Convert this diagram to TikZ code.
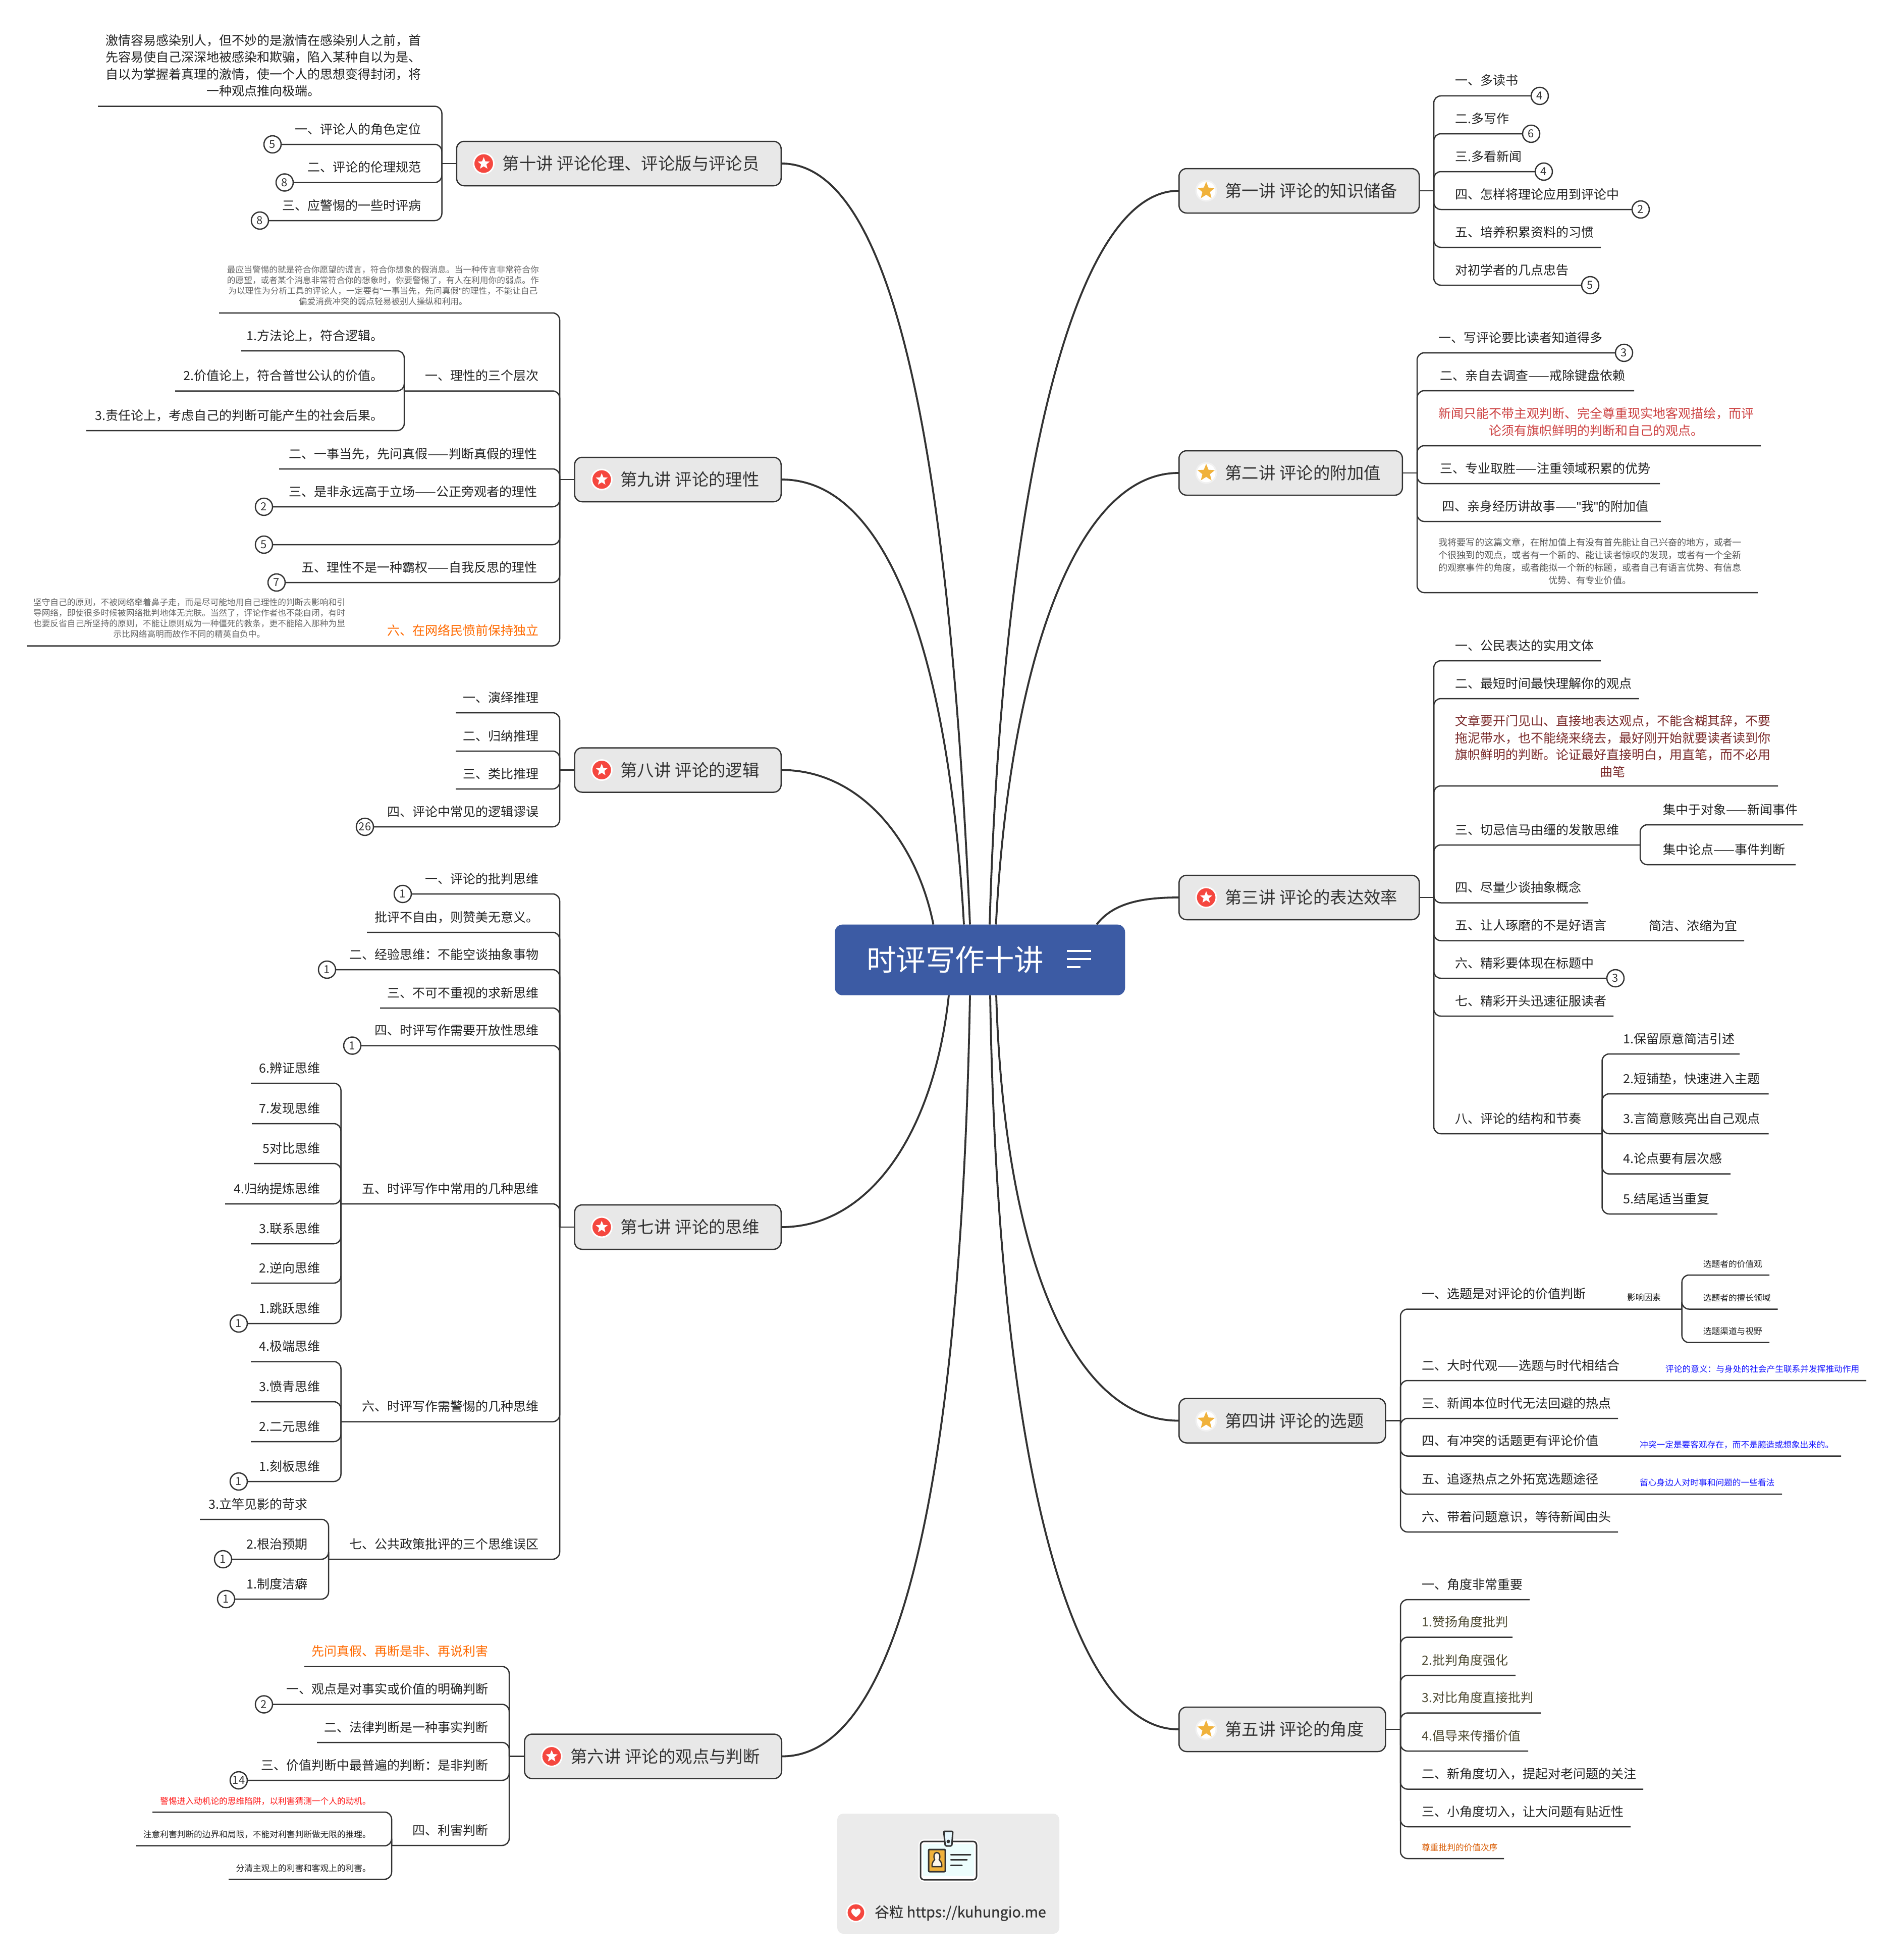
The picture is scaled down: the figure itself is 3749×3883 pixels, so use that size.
\documentclass[tikz,border=0pt]{standalone}
\usepackage{xcolor}
\usepackage{fontspec}
\setmainfont{Noto Sans CJK SC}
\newfontfamily\quotefont{Liberation Sans}
\newfontfamily\footerfont[FakeBold=0.5]{Noto Sans CJK SC}
\usepackage{tikz}
\usetikzlibrary{calc}
\usetikzlibrary{shapes.geometric}
\definecolor{inkDark}{HTML}{333333}
\definecolor{leafInk}{HTML}{222222}
\definecolor{topicFill}{HTML}{E8E8E8}
\definecolor{rootBlue}{HTML}{3C5BA4}
\definecolor{cardFill}{HTML}{EBEBEB}
\definecolor{noteGray}{HTML}{666666}
\definecolor{warnOrange}{HTML}{FF6A00}
\definecolor{softRed}{HTML}{CC4040}
\definecolor{deepRed}{HTML}{7A2A2A}
\definecolor{oliveInk}{HTML}{4D4A32}
\definecolor{noteBlue}{HTML}{1414FF}
\definecolor{alertRed}{HTML}{FF1A1A}
\definecolor{iconRed}{HTML}{F5473F}
\definecolor{iconGold}{HTML}{F0B23C}
\tikzset{branch/.style={draw=inkDark, line width=2.5pt, rounded corners=14pt}}
\tikzset{main-curve/.style={draw=inkDark, line width=3.8pt}}
\tikzset{root-node/.style={fill=rootBlue, rounded corners=15pt, minimum height=140pt, inner xsep=63pt, text=white, font=\fontsize{58.5}{60}\selectfont}}
\tikzset{topic-node/.style={draw=inkDark, fill=topicFill, line width=2.5pt, rounded corners=15pt, minimum height=88pt, inner xsep=43pt, text=inkDark, font=\fontsize{33.4}{40}\selectfont}}
\tikzset{leaf-text/.style={inner sep=0pt, align=center, text=leafInk, font=\fontsize{25}{33.4}\selectfont}}
\tikzset{small-text/.style={leaf-text, font=\fontsize{16.7}{21}\selectfont}}
\tikzset{para-gray/.style={small-text, text=noteGray, font=\fontsize{16.7}{21}\selectfont}}
\tikzset{note-blue/.style={small-text, text=noteBlue, anchor=base west}}
\tikzset{count-badge/.style={circle, draw=inkDark, fill=white, line width=2.5pt, minimum size=34pt, inner sep=0pt, text=inkDark, font=\fontsize{22}{24}\selectfont}}
\tikzset{icon-disc/.style={circle, draw=white, line width=3pt, minimum size=40pt, inner sep=0pt}}
\tikzset{icon-star/.style={star, star points=5, star point ratio=2.3, inner sep=0pt, minimum size=#1}}
\newcommand{\qmark}{{\quotefont"}}
\newcommand{\gap}{\hspace{8pt}}
\newcommand{\leaftext}{}
\newcommand{\leafleft}[6][-21]{
    \coordinate (#2end) at (#5,#4);
    \node[leaf-text, anchor=base east, #6] (#2) at ($(#3 |- #2end)+(-41,#1)$) {\leaftext};
    \draw[branch] (#3) |- (#2end);
}
\newcommand{\leafright}[6][-21]{
    \coordinate (#2end) at (#5,#4);
    \node[leaf-text, anchor=base west, #6] (#2) at ($(#3 |- #2end)+(42,#1)$) {\leaftext};
    \draw[branch] (#3) |- (#2end);
}
\newcommand{\leafL}[7][-21]{\renewcommand{\leaftext}{#7}\leafleft[#1]{#2}{#3}{#4}{#5}{#6}}
\newcommand{\leafR}[7][-21]{\renewcommand{\leaftext}{#7}\leafright[#1]{#2}{#3}{#4}{#5}{#6}}
\newcommand{\countbadge}[2]{\node[count-badge] (#1badge) at (#1end) {#2};}
\newcommand{\redicon}[2]{
    \node[icon-disc, fill=iconRed] (#1) at ($(#2.west)+(55,0)$) {};
    \node[icon-star=25pt, fill=white] (#1star) at (#1) {};
}
\newcommand{\goldicon}[2]{
    \node[icon-disc, fill=white, draw=topicFill!60!white] (#1) at ($(#2.west)+(55,0)$) {};
    \node[icon-star=36pt, fill=iconGold] (#1star) at (#1) {};
}
\begin{document}
\begin{tikzpicture}[x=1pt, y=-1pt]
    \useasboundingbox (0,0) rectangle (3749,3883);
    \fill[white] (0,0) rectangle (3749,3883);

    \node[root-node] (root) at (1941.8,1901.7) {时评写作十讲\hspace*{98pt}};
    \draw[white, line width=4pt] ($(root.center)+(172,-18)$) -- +(48,0);
    \draw[white, line width=4pt] ($(root.center)+(172,-2)$) -- +(48,0);
    \draw[white, line width=4pt] ($(root.center)+(172,14)$) -- +(27,0);

    \node[topic-node, anchor=east] (t10) at (1549,324) {\hspace*{48pt}第十讲\gap 评论伦理、评论版与评论员};
    \node[topic-node, anchor=east] (t9) at (1549,950) {\hspace*{48pt}第九讲\gap 评论的理性};
    \node[topic-node, anchor=east] (t8) at (1549,1525.5) {\hspace*{48pt}第八讲\gap 评论的逻辑};
    \node[topic-node, anchor=east] (t7) at (1549,2431) {\hspace*{48pt}第七讲\gap 评论的思维};
    \node[topic-node, anchor=east] (t6) at (1550,3479.5) {\hspace*{48pt}第六讲\gap 评论的观点与判断};
    \node[topic-node, anchor=west] (t1) at (2335,378) {\hspace*{48pt}第一讲\gap 评论的知识储备};
    \node[topic-node, anchor=west] (t2) at (2335,937) {\hspace*{48pt}第二讲\gap 评论的附加值};
    \node[topic-node, anchor=west] (t3) at (2335,1778) {\hspace*{48pt}第三讲\gap 评论的表达效率};
    \node[topic-node, anchor=west] (t4) at (2335,2814.5) {\hspace*{48pt}第四讲\gap 评论的选题};
    \node[topic-node, anchor=west] (t5) at (2335,3426) {\hspace*{48pt}第五讲\gap 评论的角度};
    \redicon{i10}{t10} \redicon{i9}{t9} \redicon{i8}{t8} \redicon{i7}{t7} \redicon{i6}{t6} \redicon{i3}{t3}
    \goldicon{i1}{t1} \goldicon{i2}{t2} \goldicon{i4}{t4} \goldicon{i5}{t5}

    \draw[main-curve] ([xshift=-19.8pt]root.north) .. controls (1885,1000) and (1790,324) .. (t10.east);
    \draw[main-curve] ([xshift=-31.8pt]root.north) .. controls (1880,1300) and (1760,950) .. (t9.east);
    \draw[main-curve] ([xshift=-92.3pt]root.north) .. controls (1815,1660) and (1700,1525.5) .. (t8.east);
    \draw[main-curve] ([xshift=-61.8pt]root.south) .. controls (1850,2250) and (1720,2431) .. (t7.east);
    \draw[main-curve] ([xshift=-19.8pt]root.south) .. controls (1905,2900) and (1790,3479.5) .. (t6.east);
    \draw[main-curve] ([xshift=19.2pt]root.north) .. controls (1985,1000) and (2120,378) .. (t1.west);
    \draw[main-curve] ([xshift=31.7pt]root.north) .. controls (2000,1320) and (2130,937) .. (t2.west);
    \draw[main-curve] ([xshift=231.2pt]root.north) .. controls (2205,1790) and (2260,1778) .. (t3.west);
    \draw[main-curve] ([xshift=32.2pt]root.south) .. controls (1990,2500) and (2130,2814.5) .. (t4.west);
    \draw[main-curve] ([xshift=20.2pt]root.south) .. controls (1975,2800) and (2100,3426) .. (t5.west);

    % lecture ten
    \coordinate (j10) at (875.5,324);
    \draw[branch] (t10.west) -- (j10);
    \leafL{t10a}{j10}{210.6}{194}{}{激情容易感染别人，但不妙的是激情在感染别人之前，首\\先容易使自己深深地被感染和欺骗，陷入某种自以为是、\\自以为掌握着真理的激情，使一个人的思想变得封闭，将\\一种观点推向极端。}
    \leafL{t10b}{j10}{286}{540}{}{一、评论人的角色定位}
    \leafL{t10c}{j10}{361.5}{564}{}{二、评论的伦理规范}
    \leafL{t10d}{j10}{437}{515}{}{三、应警惕的一些时评病}
    \countbadge{t10b}{5} \countbadge{t10c}{8} \countbadge{t10d}{8}

    % lecture nine
    \coordinate (j9) at (1109,950);
    \draw[branch] (t9.west) -- (j9);
    \leafL[-17]{t9a}{j9}{620}{434}{para-gray}{最应当警惕的就是符合你愿望的谎言，符合你想象的假消息。当一种传言非常符合你\\的愿望，或者某个消息非常符合你的想象时，你要警惕了，有人在利用你的弱点。作\\为以理性为分析工具的评论人，一定要有\qmark 一事当先，先问真假\qmark 的理性，不能让自己\\偏爱消费冲突的弱点轻易被别人操纵和利用。}
    \leafL{t9b}{j9}{774.5}{801}{}{一、理性的三个层次}
    \coordinate (j9b) at (801,774.5);
    \leafL{t9b1}{j9b}{695}{478}{}{1.方法论上，符合逻辑。}
    \leafL{t9b2}{j9b}{774.5}{347}{}{2.价值论上，符合普世公认的价值。}
    \leafL{t9b3}{j9b}{853}{171}{}{3.责任论上，考虑自己的判断可能产生的社会后果。}
    \leafL{t9c}{j9}{929}{553}{xshift=-3pt}{二、一事当先，先问真假——判断真假的理性}
    \leafL{t9d}{j9}{1004}{523}{xshift=-3pt}{三、是非永远高于立场——公正旁观者的理性}
    \leafL{t9e}{j9}{1079}{523}{}{}
    \leafL{t9f}{j9}{1154}{548}{xshift=-3pt}{五、理性不是一种霸权——自我反思的理性}
    \leafL{t9g}{j9}{1279.5}{53}{text=warnOrange}{六、在网络民愤前保持独立}
    \countbadge{t9d}{2} \countbadge{t9e}{5} \countbadge{t9f}{7}
    \node[para-gray, anchor=base] (t9gnote) at (375,1262) {坚守自己的原则，不被网络牵着鼻子走，而是尽可能地用自己理性的判断去影响和引\\导网络，即使很多时候被网络批判地体无完肤。当然了，评论作者也不能自闭，有时\\也要反省自己所坚持的原则，不能让原则成为一种僵死的教条，更不能陷入那种为显\\示比网络高明而故作不同的精英自负中。};

    % lecture eight
    \coordinate (j8) at (1109,1525.5);
    \draw[branch] (t8.west) -- (j8);
    \leafL{t8a}{j8}{1412}{903}{}{一、演绎推理}
    \leafL{t8b}{j8}{1488}{903}{}{二、归纳推理}
    \leafL{t8c}{j8}{1563}{903}{}{三、类比推理}
    \leafL{t8d}{j8}{1638}{723}{}{四、评论中常见的逻辑谬误}
    \countbadge{t8d}{26}

    % lecture seven
    \coordinate (j7) at (1109,2431);
    \draw[branch] (t7.west) -- (j7);
    \leafL{t7a}{j7}{1771}{798}{}{一、评论的批判思维}
    \leafL{t7b}{j7}{1847}{727}{}{批评不自由，则赞美无意义。}
    \leafL{t7c}{j7}{1921}{648}{}{二、经验思维：不能空谈抽象事物}
    \leafL{t7d}{j7}{1997}{753}{}{三、不可不重视的求新思维}
    \leafL{t7e}{j7}{2071.5}{698}{}{四、时评写作需要开放性思维}
    \countbadge{t7a}{1} \countbadge{t7c}{1} \countbadge{t7e}{1}
    \leafL{t7f}{j7}{2385}{675.5}{}{五、时评写作中常用的几种思维}
    \coordinate (j7f) at (675.5,2385);
    \leafL{t7f6}{j7f}{2146}{497}{}{6.辨证思维}
    \leafL{t7f7}{j7f}{2226}{499}{}{7.发现思维}
    \leafL{t7f5}{j7f}{2305}{503}{}{5对比思维}
    \leafL{t7f4}{j7f}{2385}{446}{}{4.归纳提炼思维}
    \leafL{t7f3}{j7f}{2464}{497}{}{3.联系思维}
    \leafL{t7f2}{j7f}{2542}{497}{}{2.逆向思维}
    \leafL{t7f1}{j7f}{2622}{473}{}{1.跳跃思维}
    \countbadge{t7f1}{1}
    \leafL{t7g}{j7}{2816.6}{675.5}{}{六、时评写作需警惕的几种思维}
    \coordinate (j7g) at (675.5,2816.6);
    \leafL{t7g4}{j7g}{2697.5}{497}{}{4.极端思维}
    \leafL{t7g3}{j7g}{2777}{497}{}{3.愤青思维}
    \leafL{t7g2}{j7g}{2856}{497}{}{2.二元思维}
    \leafL{t7g1}{j7g}{2935}{473}{}{1.刻板思维}
    \countbadge{t7g1}{1}
    \leafL{t7h}{j7}{3089}{651}{}{七、公共政策批评的三个思维误区}
    \coordinate (j7h) at (651,3089);
    \leafL{t7h3}{j7h}{3010}{396}{}{3.立竿见影的苛求}
    \leafL{t7h2}{j7h}{3089}{442}{}{2.根治预期}
    \leafL{t7h1}{j7h}{3168}{448}{}{1.制度洁癖}
    \countbadge{t7h2}{1} \countbadge{t7h1}{1}

    % lecture six
    \coordinate (j6) at (1009,3479.5);
    \draw[branch] (t6.west) -- (j6);
    \leafL{t6a}{j6}{3301.6}{603}{text=warnOrange}{先问真假、再断是非、再说利害}
    \leafL{t6b}{j6}{3376.5}{523}{}{一、观点是对事实或价值的明确判断}
    \leafL{t6c}{j6}{3452}{628}{}{二、法律判断是一种事实判断}
    \leafL{t6d}{j6}{3527}{473}{}{三、价值判断中最普遍的判断：是非判断}
    \countbadge{t6b}{2} \countbadge{t6d}{14}
    \leafL{t6e}{j6}{3656}{776}{}{四、利害判断}
    \coordinate (j6e) at (776,3656);
    \leafL[-16]{t6e1}{j6e}{3590}{302}{small-text, text=alertRed}{警惕进入动机论的思维陷阱，以利害猜测一个人的动机。}
    \leafL[-16]{t6e2}{j6e}{3656.7}{269}{small-text}{注意利害判断的边界和局限，不能对利害判断做无限的推理。}
    \leafL[-16]{t6e3}{j6e}{3723}{453}{small-text}{分清主观上的利害和客观上的利害。}

    % lecture one
    \coordinate (j1) at (2841,378);
    \draw[branch] (t1.east) -- (j1);
    \leafR{t1a}{j1}{190}{3051}{}{一、多读书}
    \leafR{t1b}{j1}{265}{3034}{}{二.多写作}
    \leafR{t1c}{j1}{340}{3059}{}{三.多看新闻}
    \leafR{t1d}{j1}{415}{3251}{}{四、怎样将理论应用到评论中}
    \leafR{t1e}{j1}{490}{3172}{}{五、培养积累资料的习惯}
    \leafR{t1f}{j1}{565}{3151}{}{对初学者的几点忠告}
    \countbadge{t1a}{4} \countbadge{t1b}{6} \countbadge{t1c}{4} \countbadge{t1d}{2} \countbadge{t1f}{5}

    % lecture two
    \coordinate (j2) at (2808,937);
    \draw[branch] (t2.east) -- (j2);
    \leafR{t2a}{j2}{699}{3218}{}{一、写评论要比读者知道得多}
    \leafR{t2b}{j2}{774}{3238}{xshift=3pt}{二、亲自去调查——戒除键盘依赖}
    \leafR{t2c}{j2}{883}{3489}{text=softRed}{新闻只能不带主观判断、完全尊重现实地客观描绘，而评\\论须有旗帜鲜明的判断和自己的观点。}
    \leafR{t2d}{j2}{958}{3289}{xshift=3pt}{三、专业取胜——注重领域积累的优势}
    \leafR{t2e}{j2}{1033}{3291}{xshift=7pt}{四、亲身经历讲故事——\qmark 我\qmark 的附加值}
    \leafR[-18]{t2f}{j2}{1174}{3483}{text=noteGray!85!black, font=\fontsize{18.2}{25}\selectfont}{我将要写的这篇文章，在附加值上有没有首先能让自己兴奋的地方，或者一\\个很独到的观点，或者有一个新的、能让读者惊叹的发现，或者有一个全新\\的观察事件的角度，或者能拟一个新的标题，或者自己有语言优势、有信息\\优势、有专业价值。}
    \countbadge{t2a}{3}

    % lecture three
    \coordinate (j3) at (2841,1778);
    \draw[branch] (t3.east) -- (j3);
    \leafR{t3a}{j3}{1309}{3172}{}{一、公民表达的实用文体}
    \leafR{t3b}{j3}{1384}{3247.5}{}{二、最短时间最快理解你的观点}
    \leafR[-19]{t3c}{j3}{1557}{3523}{text=deepRed}{文章要开门见山、直接地表达观点，不能含糊其辞，不要\\拖泥带水，也不能绕来绕去，最好刚开始就要读者读到你\\旗帜鲜明的判断。论证最好直接明白，用直笔，而不必用\\曲笔}
    \leafR{t3d}{j3}{1674}{3250}{}{三、切忌信马由缰的发散思维}
    \coordinate (j3d) at (3250,1674);
    \leafR{t3d1}{j3d}{1634}{3573}{xshift=3pt}{集中于对象——新闻事件}
    \leafR{t3d2}{j3d}{1713}{3558}{xshift=3pt}{集中论点——事件判断}
    \leafR{t3e}{j3}{1788.5}{3147}{}{四、尽量少谈抽象概念}
    \leafR{t3f}{j3}{1863.5}{3456}{}{五、让人琢磨的不是好语言}
    \node[leaf-text, anchor=base west] (t3fnote) at (3267,1843) {简洁、浓缩为宜};
    \leafR{t3g}{j3}{1938}{3201}{}{六、精彩要体现在标题中}
    \leafR{t3h}{j3}{2013}{3197}{}{七、精彩开头迅速征服读者}
    \countbadge{t3g}{3}
    \leafR{t3i}{j3}{2246}{3174.5}{}{八、评论的结构和节奏}
    \coordinate (j3i) at (3174.5,2246);
    \leafR{t3i1}{j3i}{2088}{3447}{}{1.保留原意简洁引述}
    \leafR{t3i2}{j3i}{2167}{3504.5}{}{2.短铺垫，快速进入主题}
    \leafR{t3i3}{j3i}{2246}{3504.5}{}{3.言简意赅亮出自己观点}
    \leafR{t3i4}{j3i}{2325.6}{3429}{}{4.论点要有层次感}
    \leafR{t3i5}{j3i}{2405}{3403}{}{5.结尾适当重复}

    % lecture four
    \coordinate (j4) at (2775,2814.5);
    \draw[branch] (t4.east) -- (j4);
    \leafR{t4a}{j4}{2593.5}{3332.7}{}{一、选题是对评论的价值判断}
    \coordinate (j4a) at (3332.7,2593.5);
    \node[small-text, anchor=base west] (t4anote) at (3224,2576) {影响因素};
    \leafR[-16]{t4a1}{j4a}{2526}{3506}{small-text}{选题者的价值观}
    \leafR[-16]{t4a2}{j4a}{2593.5}{3522.7}{small-text}{选题者的擅长领域}
    \leafR[-16]{t4a3}{j4a}{2659.7}{3506}{small-text}{选题渠道与视野}
    \leafR{t4b}{j4}{2735}{3698}{}{二、大时代观——选题与时代相结合}
    \node[note-blue] (t4bnote) at (3300,2718) {评论的意义：与身处的社会产生联系并发挥推动作用};
    \leafR{t4c}{j4}{2810}{3206}{}{三、新闻本位时代无法回避的热点}
    \leafR{t4d}{j4}{2884.5}{3648}{}{四、有冲突的话题更有评论价值}
    \node[note-blue] (t4dnote) at (3249,2868) {冲突一定是要客观存在，而不是臆造或想象出来的。};
    \leafR{t4e}{j4}{2960}{3531}{}{五、追逐热点之外拓宽选题途径}
    \node[note-blue] (t4enote) at (3249,2943) {留心身边人对时事和问题的一些看法};
    \leafR{t4f}{j4}{3035}{3206}{}{六、带着问题意识，等待新闻由头}

    % lecture five
    \coordinate (j5) at (2775,3426);
    \draw[branch] (t5.east) -- (j5);
    \leafR{t5a}{j5}{3169}{3031}{}{一、角度非常重要}
    \leafR{t5b}{j5}{3243.5}{2997}{text=oliveInk}{1.赞扬角度批判}
    \leafR{t5c}{j5}{3319}{3003}{text=oliveInk}{2.批判角度强化}
    \leafR{t5d}{j5}{3393.6}{3053}{text=oliveInk}{3.对比角度直接批判}
    \leafR{t5e}{j5}{3469}{3028}{text=oliveInk}{4.倡导来传播价值}
    \leafR{t5f}{j5}{3544.5}{3256}{}{二、新角度切入，提起对老问题的关注}
    \leafR{t5g}{j5}{3619}{3231}{}{三、小角度切入，让大问题有贴近性}
    \leafR[-16]{t5h}{j5}{3682}{2980}{small-text, text=warnOrange!85!black}{尊重批判的价值次序}

    % footer card
    \fill[cardFill, rounded corners=12pt] (1659,3593) rectangle (2099,3831);
    \draw[white, line width=8pt, rounded corners=7pt] (1824,3648) rectangle (1935,3724);
    \draw[inkDark, fill=white, line width=3pt, rounded corners=7pt] (1824,3648) rectangle (1935,3724);
    \fill[iconGold!10!cyan!8!white] (1829,3653) rectangle (1930,3717);
    \draw[inkDark, fill=iconGold, line width=3pt, rounded corners=2pt] (1840,3664) rectangle (1873,3708);
    \fill[white!90!iconGold, draw=inkDark, line width=2.5pt] (1847,3698) .. controls (1846,3688) and (1851,3687) .. (1852,3684) .. controls (1849,3677) and (1851,3670) .. (1856,3670) .. controls (1862,3670) and (1864,3677) .. (1861,3684) .. controls (1862,3687) and (1867,3688) .. (1866,3698) -- cycle;
    \draw[inkDark, fill=white!90!cyan, line width=3pt, rounded corners=2pt] (1870,3628) -- (1888,3628) -- (1886,3657) -- (1873,3657) -- cycle;
    \fill[inkDark] (1879,3648) circle (3.5);
    \draw[inkDark, line width=3pt, line cap=round] (1884,3674) -- (1923,3674);
    \draw[inkDark, line width=3pt, line cap=round] (1884,3684.5) -- (1916,3684.5);
    \draw[inkDark, line width=3pt, line cap=round] (1884,3695) -- (1906,3695);
    \node[icon-disc, fill=iconRed, minimum size=36pt] (heart) at (1696,3789) {};
    \fill[white] (1696,3798) .. controls (1689,3793) and (1686,3789) .. (1687,3785) .. controls (1688,3780) and (1694,3780) .. (1696,3784) .. controls (1698,3780) and (1704,3780) .. (1705,3785) .. controls (1706,3789) and (1703,3793) .. (1696,3798) -- cycle;
    \node[inner sep=0pt, anchor=west, text=inkDark, font=\footerfont\fontsize{28.6}{32}\selectfont] (footer) at (1733,3790) {谷粒 https://kuhungio.me};
\end{tikzpicture}
\end{document}
